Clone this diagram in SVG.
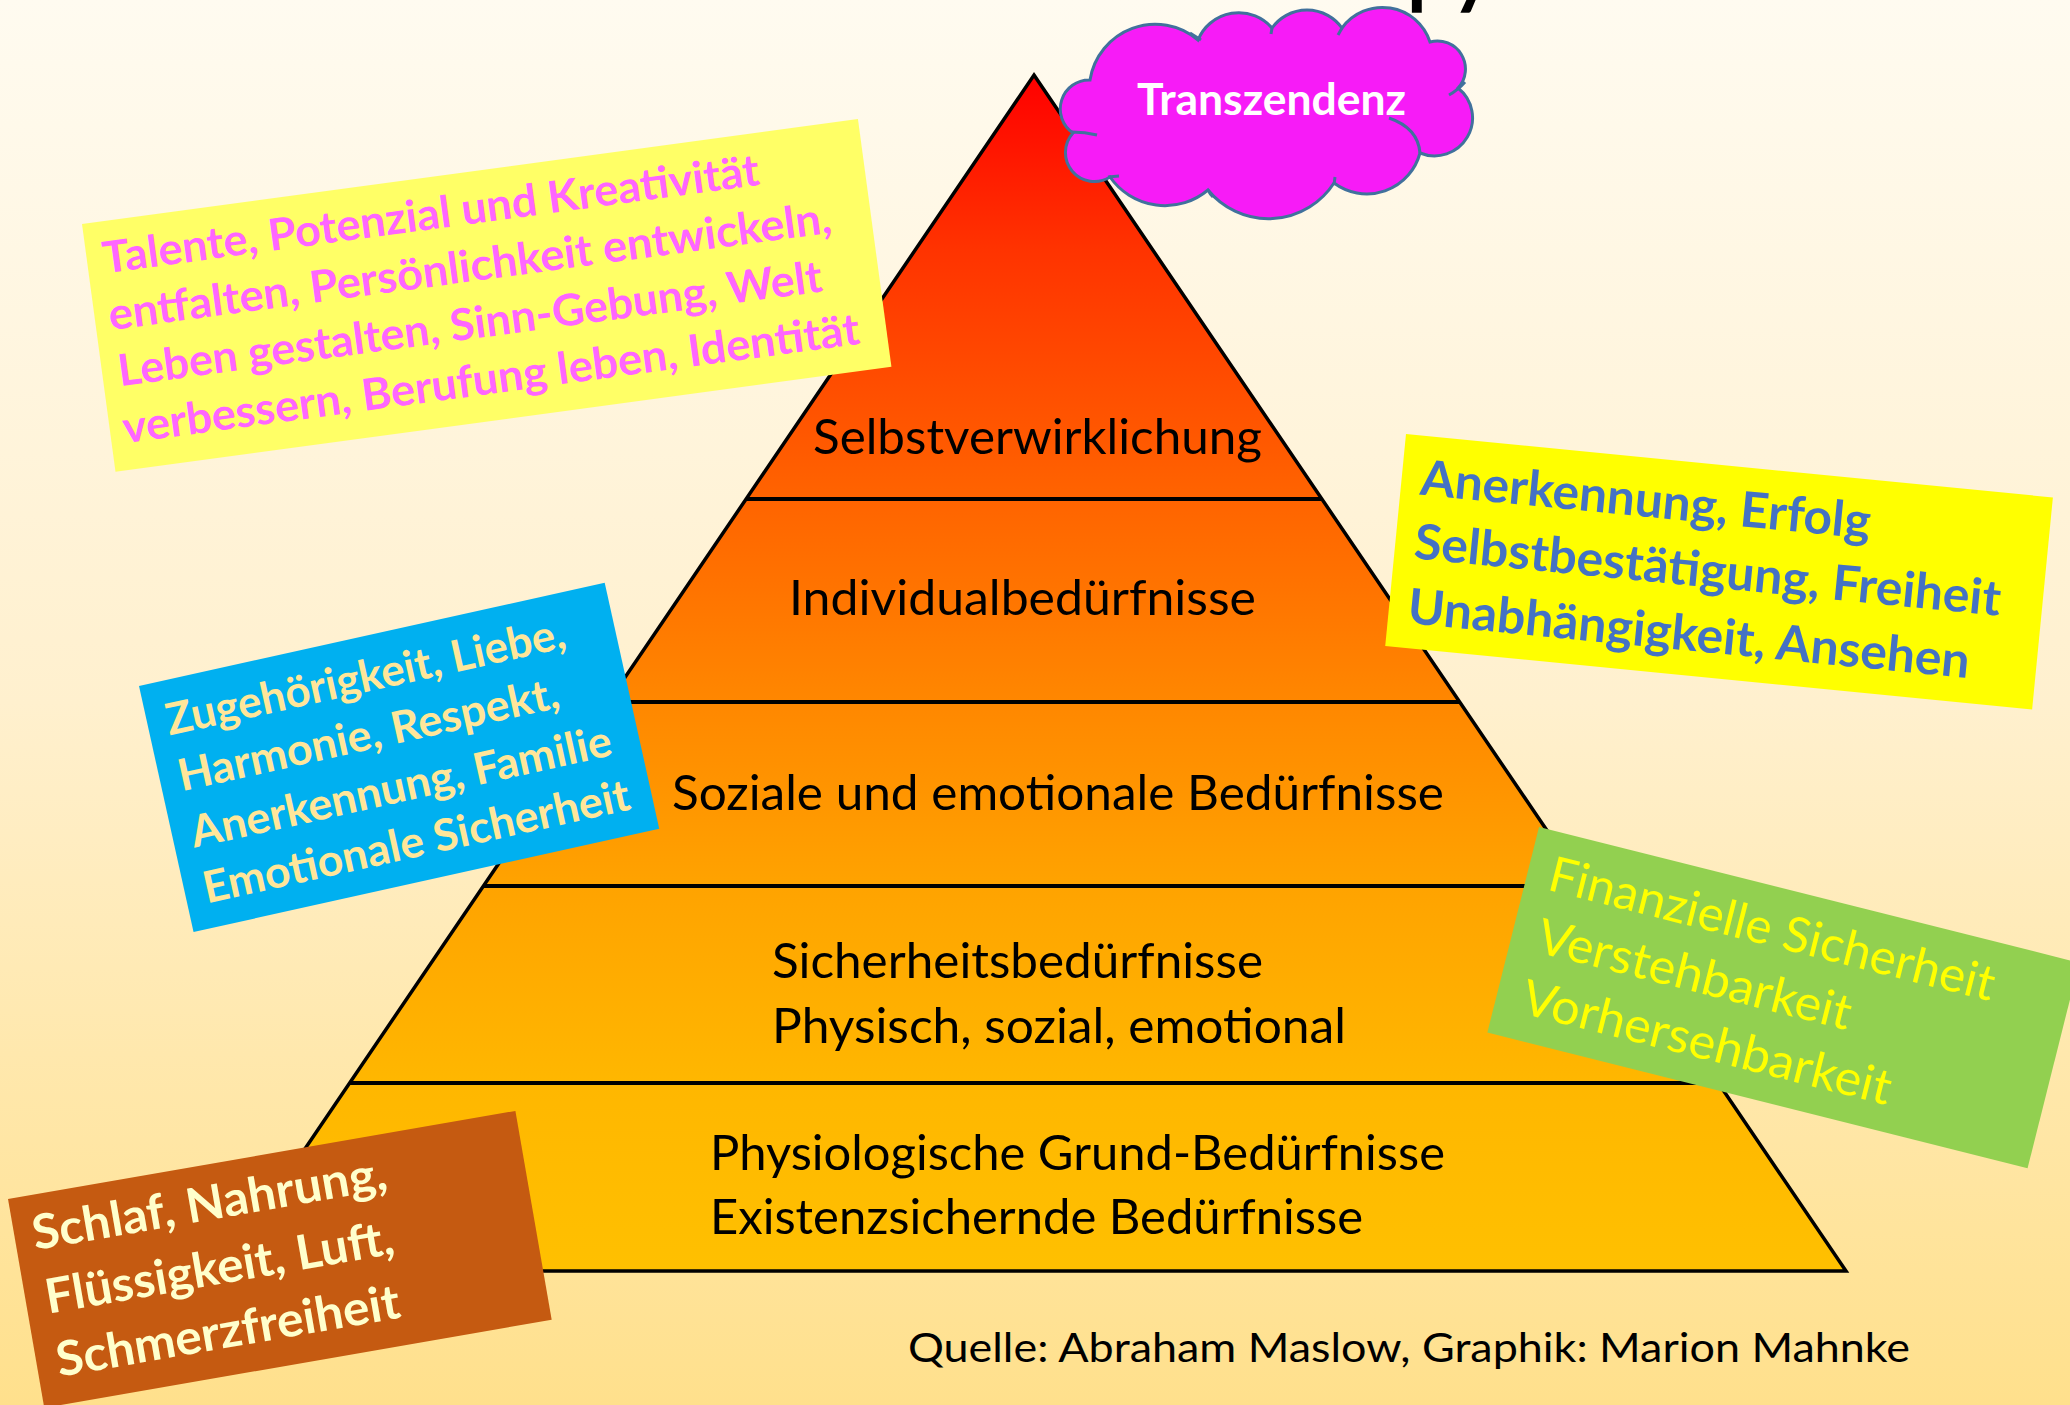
<svg xmlns="http://www.w3.org/2000/svg" width="2070" height="1405" viewBox="0 0 2070 1405">
<defs>
<linearGradient id="bg" x1="0" y1="0" x2="0" y2="1">
<stop offset="0" stop-color="#FFFBF0"/>
<stop offset="0.5" stop-color="#FFF0CE"/>
<stop offset="1" stop-color="#FFE08C"/>
</linearGradient>
<linearGradient id="pyr" gradientUnits="userSpaceOnUse" x1="0" y1="75" x2="0" y2="1271">
<stop offset="0" stop-color="#FF0000"/>
<stop offset="0.146" stop-color="#FF3300"/>
<stop offset="0.355" stop-color="#FF6400"/>
<stop offset="0.523" stop-color="#FF8700"/>
<stop offset="0.678" stop-color="#FFA300"/>
<stop offset="0.843" stop-color="#FFB700"/>
<stop offset="1" stop-color="#FFC000"/>
</linearGradient>
<style>
text { font-family: Lato, "Liberation Sans", sans-serif; }
.lay { font-size: 48px; fill: #000; }
.b { font-weight: 700; }
.ln { stroke: #000; stroke-width: 4; }
.stub { fill: none; stroke: #41719C; stroke-width: 3; }
</style>
</defs>
<rect x="0" y="0" width="2070" height="1405" fill="url(#bg)"/>
<g id="title">
<text class="b" y="-1" font-size="80" fill="#000"><tspan x="1407" text-anchor="end">Bedürfnis</tspan><tspan x="1407">pyramide</tspan></text>
</g>
<g id="pyramid">
<polygon points="1034,75 1846,1271 222,1271" fill="url(#pyr)" stroke="#000" stroke-width="3.5" stroke-linejoin="miter"/>
</g>
<g id="connectors">
<line class="ln" x1="746" y1="499" x2="1322" y2="499"/>
<line class="ln" x1="608" y1="702" x2="1460" y2="702"/>
<line class="ln" x1="483" y1="886" x2="1585" y2="886"/>
<line class="ln" x1="350" y1="1083" x2="1718" y2="1083"/>
</g>
<g id="layer-selbst"><text class="lay" x="813" y="454" textLength="449" lengthAdjust="spacingAndGlyphs">Selbstverwirklichung</text></g>
<g id="layer-individual"><text class="lay" x="789" y="615" textLength="467" lengthAdjust="spacingAndGlyphs">Individualbedürfnisse</text></g>
<g id="layer-sozial"><text class="lay" x="672" y="810" textLength="772" lengthAdjust="spacingAndGlyphs">Soziale und emotionale Bedürfnisse</text></g>
<g id="layer-sicherheit">
<text class="lay" x="772" y="978" textLength="491" lengthAdjust="spacingAndGlyphs">Sicherheitsbedürfnisse</text>
<text class="lay" x="772" y="1043" textLength="574" lengthAdjust="spacingAndGlyphs">Physisch, sozial, emotional</text>
</g>
<g id="layer-physio">
<text class="lay" x="710" y="1170" textLength="735" lengthAdjust="spacingAndGlyphs">Physiologische Grund-Bedürfnisse</text>
<text class="lay" x="710" y="1234" textLength="653" lengthAdjust="spacingAndGlyphs">Existenzsichernde Bedürfnisse</text>
</g>
<g id="cloud">
<path d="M1090,80 A66,66 0 0 1 1198,40 A44,44 0 0 1 1272,28 A43,43 0 0 1 1342,28 A50,50 0 0 1 1430,42 A28,28 0 0 1 1458,88 A38,38 0 0 1 1420,153 A55,55 0 0 1 1334,183 A78,78 0 0 1 1208,190 A67,67 0 0 1 1110,177 A29,29 0 0 1 1073,133 A29,29 0 0 1 1090,80 Z" fill="#F71BF7" stroke="#41719C" stroke-width="3"/>
<path class="stub" d="M1389,118 Q1418,128 1420,153"/>
<path class="stub" d="M1072,132 Q1085,132 1097,135"/>
<path class="stub" d="M1108,177 L1119,176"/>
<path class="stub" d="M1208,190 Q1210,194 1213,197"/>
<path class="stub" d="M1335,177 L1334,185"/>
<path class="stub" d="M1449,95 Q1458,90 1465,82"/>
<path class="stub" d="M1190,33 L1201,40"/>
<path class="stub" d="M1272,28 L1271,34"/>
<path class="stub" d="M1342,28 L1338,35"/>
<text class="b" x="1137" y="115" font-size="43" fill="#FFFFFF" textLength="269" lengthAdjust="spacingAndGlyphs">Transzendenz</text>
</g>
<g id="box-selbst" transform="translate(82,224) rotate(-7.7)">
<rect x="0" y="0" width="783" height="250" fill="#FFFF66"/>
<g class="b" font-size="44" fill="#FF66FF">
<text x="16" y="52" textLength="662" lengthAdjust="spacingAndGlyphs">Talente, Potenzial und Kreativität</text>
<text x="14" y="109" textLength="729" lengthAdjust="spacingAndGlyphs">entfalten, Persönlichkeit entwickeln,</text>
<text x="16" y="166" textLength="710" lengthAdjust="spacingAndGlyphs">Leben gestalten, Sinn-Gebung, Welt</text>
<text x="13" y="223" textLength="743" lengthAdjust="spacingAndGlyphs">verbessern, Berufung leben, Identität</text>
</g>
</g>
<g id="box-individual" transform="translate(1406,434) rotate(5.6)">
<rect x="0" y="0" width="650" height="213" fill="#FFFF00"/>
<g class="b" font-size="49" fill="#4472C4">
<text x="19" y="59" textLength="452" lengthAdjust="spacingAndGlyphs">Anerkennung, Erfolg</text>
<text x="19" y="123" textLength="589" lengthAdjust="spacingAndGlyphs">Selbstbestätigung, Freiheit</text>
<text x="19" y="188" textLength="564" lengthAdjust="spacingAndGlyphs">Unabhängigkeit, Ansehen</text>
</g>
</g>
<g id="box-sozial" transform="translate(139,686) rotate(-12.5)">
<rect x="0" y="0" width="477" height="252" fill="#00B0F0"/>
<g class="b" font-size="44" fill="#FFE699">
<text x="19" y="55" textLength="408" lengthAdjust="spacingAndGlyphs">Zugehörigkeit, Liebe,</text>
<text x="19" y="112" textLength="389" lengthAdjust="spacingAndGlyphs">Harmonie, Respekt,</text>
<text x="19" y="170" textLength="430" lengthAdjust="spacingAndGlyphs">Anerkennung, Familie</text>
<text x="19" y="227" textLength="436" lengthAdjust="spacingAndGlyphs">Emotionale Sicherheit</text>
</g>
</g>
<g id="box-sicherheit" transform="translate(1539,827) rotate(14.1)">
<rect x="0" y="0" width="557" height="212" fill="#92D050"/>
<g font-size="49" fill="#FFFF00">
<text x="22" y="59" textLength="458" lengthAdjust="spacingAndGlyphs">Finanzielle Sicherheit</text>
<text x="26" y="122" textLength="322" lengthAdjust="spacingAndGlyphs">Verstehbarkeit</text>
<text x="26" y="185" textLength="379" lengthAdjust="spacingAndGlyphs">Vorhersehbarkeit</text>
</g>
</g>
<g id="box-physio" transform="translate(8,1199) rotate(-9.85)">
<rect x="0" y="0" width="515" height="212" fill="#C55A11"/>
<g class="b" font-size="48" fill="#FFFFCC">
<text x="18" y="55" textLength="359" lengthAdjust="spacingAndGlyphs">Schlaf, Nahrung,</text>
<text x="20" y="120" textLength="353" lengthAdjust="spacingAndGlyphs">Flüssigkeit, Luft,</text>
<text x="20" y="184" textLength="348" lengthAdjust="spacingAndGlyphs">Schmerzfreiheit</text>
</g>
</g>
<g id="source">
<text x="908" y="1362" font-size="41" fill="#000" textLength="1002" lengthAdjust="spacingAndGlyphs">Quelle: Abraham Maslow, Graphik: Marion Mahnke</text>
</g>
</svg>
